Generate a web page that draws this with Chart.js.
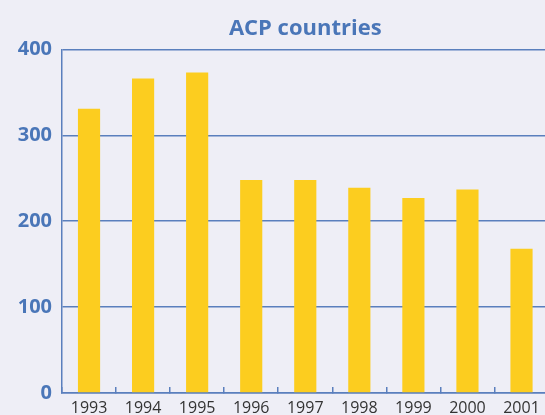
<!DOCTYPE html>
<html>
<head>
<meta charset="utf-8">
<script src="https://cdn.jsdelivr.net/npm/chart.js@4"></script>
<style>
  body { margin: 0; overflow: hidden; background: #eeeef6; }
  #wrap { width: 552px; height: 422px; }
</style>
</head>
<body>
<div id="wrap"><canvas id="myChart"></canvas></div>
<script>
// ACP countries
const years = ['1993', '1994', '1995', '1996', '1997', '1998', '1999', '2000', '2001'];
const values = [331, 366, 373, 248, 248, 239, 227, 237, 168];
const yTicks = [0, 100, 200, 300, 400];

const blue = '#5a7fbd';

const ctx = document.getElementById('myChart').getContext('2d');
const myChart = new Chart(ctx, {
    type: 'bar',
    data: {
        labels: years,
        datasets: [{
            label: 'ACP countries',
            data: values,
            backgroundColor: '#fccd1f',
            borderWidth: 0,
            barPercentage: 0.41,
            categoryPercentage: 1
        }]
    },
    options: {
        responsive: true,
        maintainAspectRatio: false,
        animation: false,
        layout: { padding: 0 },
        plugins: {
            legend: { display: false },
            tooltip: { enabled: false },
            title: {
                display: true,
                text: 'ACP countries',
                fullSize: false,
                color: '#4a76b8',
                font: { family: 'Open Sans', size: 22, weight: 'bold' },
                padding: { top: 16, bottom: 7 }
            }
        },
        scales: {
            y: {
                min: 0,
                max: 400,
                afterFit: (scale) => { scale.width = 62; },
                afterBuildTicks: (scale) => { scale.ticks = yTicks.map(v => ({ value: v })); },
                grid: { color: blue, lineWidth: 1.5, drawTicks: false },
                border: { color: blue, width: 1.5 },
                ticks: {
                    color: '#4a76b8',
                    padding: 10,
                    font: { family: 'Open Sans', size: 20, weight: 'bold' }
                }
            },
            x: {
                afterFit: (scale) => { scale.height = 29; },
                grid: { color: blue, lineWidth: 1.5, drawOnChartArea: false, tickLength: -6 },
                border: { color: blue, width: 1.5 },
                ticks: {
                    color: '#333333',
                    padding: 12,
                    autoSkip: false,
                    maxRotation: 0,
                    font: { family: 'Open Sans', size: 16 }
                }
            }
        }
    }
});
</script>
</body>
</html>
